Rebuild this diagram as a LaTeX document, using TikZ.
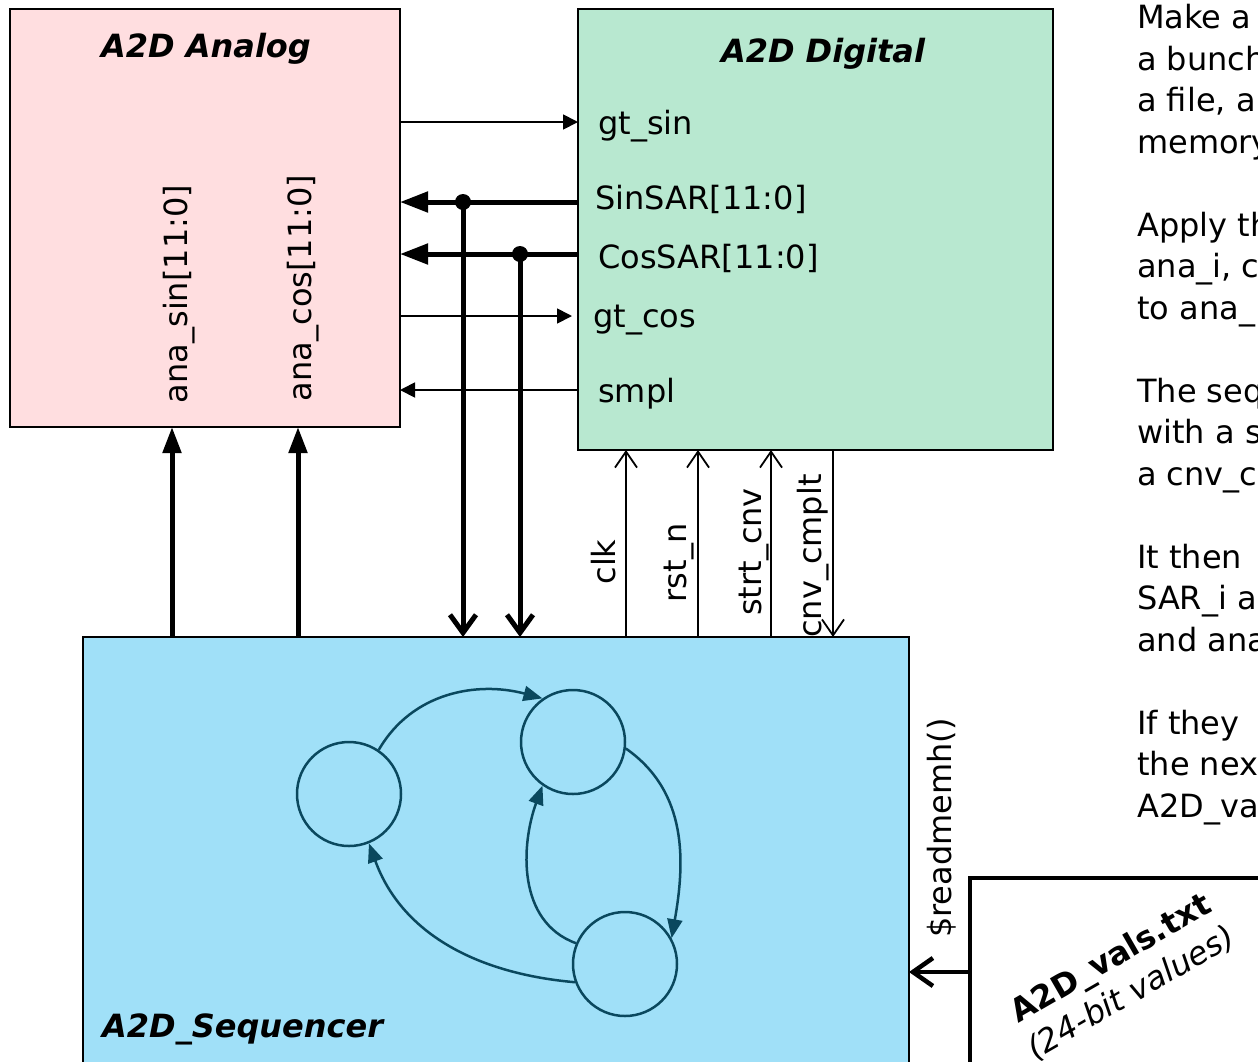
\documentclass[tikz,border=0pt]{standalone}
\usepackage{fontspec}
\setmainfont{DejaVu Sans}
\usetikzlibrary{arrows.meta}

\definecolor{anapink}{RGB}{255,222,224}
\definecolor{diggreen}{RGB}{184,232,208}
\definecolor{seqblue}{RGB}{160,224,248}
\definecolor{fsmteal}{RGB}{10,72,94}

\newcommand{\lblsize}{\fontsize{32}{38}\selectfont}

\begin{document}
\begin{tikzpicture}[x=1pt, y=1pt,
        blk/.style={draw, line width=2.2pt, anchor=north west, inner sep=0pt, outer sep=0pt},
        title/.style={font=\lblsize\bfseries\itshape, inner sep=0pt, anchor=base},
        port/.style={font=\lblsize, inner sep=0pt, anchor=base west},
        vlbl/.style={font=\lblsize, inner sep=0pt, rotate=90, anchor=base},
        sig/.style={line width=1.8pt, -{Triangle[length=15pt,width=15pt]}},
        bus/.style={line width=5pt, -{Triangle[length=28pt,width=20pt]}},
        busdn/.style={line width=5pt, -{Straight Barb[length=18pt,width=26pt]}},
        ctl/.style={line width=1.8pt, -{Straight Barb[length=16pt,width=22pt]}},
        state/.style={circle, draw=fsmteal, line width=2.5pt, minimum size=104pt, inner sep=0pt},
        trans/.style={draw=fsmteal, line width=2.5pt, -{Triangle[length=19pt,width=15pt]}},
        dot/.style={circle, fill, inner sep=0pt, minimum size=16pt}
    ]
    \useasboundingbox (0,0) rectangle (1258,-1061);
    \clip (0,0) rectangle (1258,-1061);

    % blocks
    \node[blk, fill=anapink, minimum width=390pt, minimum height=418pt] (ana) at (10,-9) {};
    \node[blk, fill=diggreen, minimum width=475pt, minimum height=441pt] (dig) at (578,-9) {};
    \node[blk, fill=seqblue, minimum width=826pt, minimum height=450pt] (seq) at (83,-637) {};
    \node[blk, fill=white, line width=4pt, minimum width=320pt, minimum height=220pt] (file) at (970,-878) {};

    \node[title] (anatitle) at (206,-57) {A2D Analog};
    \node[title] (digtitle) at (823,-62) {A2D Digital};
    \node[title, anchor=base west] (seqtitle) at (102,-1037) {A2D\_Sequencer};

    % ports of the digital block
    \node[port] (gtsin) at (598,-134) {gt\_sin};
    \node[port] (sinsar) at (595,-209) {SinSAR[11:0]};
    \node[port] (cossar) at (598,-268) {CosSAR[11:0]};
    \node[port] (gtcos) at (593,-327) {gt\_cos};
    \node[port] (smpl) at (598,-402) {smpl};

    \node[vlbl] (anasin) at (187,-294) {ana\_sin[11:0]};
    \node[vlbl] (anacos) at (311,-288) {ana\_cos[11:0]};

    % pin rows and columns
    \coordinate (rsin) at (0,-122);
    \coordinate (rcos) at (0,-316);
    \coordinate (rsmpl) at (0,-390);
    \coordinate (rrd) at (0,-972);
    \coordinate (psin) at (172,0);
    \coordinate (pcos) at (298,0);
    \coordinate (pclk) at (626,0);
    \coordinate (prst) at (698,0);
    \coordinate (pstrt) at (771,0);
    \coordinate (pcmp) at (833,0);

    \draw[sig] (ana.east |- rsin) -- (dig.west |- rsin);
    \draw[sig, shorten >=6pt] (ana.east |- rcos) -- (dig.west |- rcos);
    \draw[sig] (dig.west |- rsmpl) -- (ana.east |- rsmpl);

    % SAR buses
    \node[dot] (jsin) at (463,-202) {};
    \node[dot] (jcos) at (520,-254) {};
    \draw[bus] (dig.west |- jsin) -- (ana.east |- jsin);
    \draw[bus] (dig.west |- jcos) -- (ana.east |- jcos);
    \draw[busdn] (jsin.center) -- (seq.north -| jsin);
    \draw[busdn] (jcos.center) -- (seq.north -| jcos);

    \draw[bus, -{Triangle[length=26pt,width=18pt]}] (seq.north -| psin) -- (ana.south -| psin);
    \draw[bus, -{Triangle[length=26pt,width=18pt]}] (seq.north -| pcos) -- (ana.south -| pcos);

    % control lines
    \draw[ctl] (seq.north -| pclk) -- (dig.south -| pclk);
    \draw[ctl] (seq.north -| prst) -- (dig.south -| prst);
    \draw[ctl] (seq.north -| pstrt) -- (dig.south -| pstrt);
    \draw[ctl] (dig.south -| pcmp) -- (seq.north -| pcmp);
    \node[vlbl] (lclk) at (615,-562) {clk};
    \node[vlbl] (lrst) at (686,-563) {rst\_n};
    \node[vlbl] (lstrt) at (761,-552) {strt\_cnv};
    \node[vlbl] (lcmp) at (821,-556) {cnv\_cmplt};

    % file
    \draw[busdn, line width=4.5pt, -{Straight Barb[length=20pt,width=28pt]}] (file.west |- rrd) -- (seq.east |- rrd);
    \node[vlbl] (lrd) at (951,-828) {\$readmemh()};
    \node[rotate=30, align=center, inner sep=0pt, font=\fontsize{32}{40}\selectfont] (ftxt) at (1121,-976)
        {\textbf{A2D\_vals.txt}\\\textit{(24-bit values)}};

    % state machine
    \node[state] (s1) at (349,-794) {};
    \node[state] (s2) at (573,-742) {};
    \node[state] (s3) at (625,-964) {};
    \draw[trans] (s1.56) to[out=60, in=165] (s2.125);
    \draw[trans] (s2.-7) to[out=-35, in=80] (s3.29);
    \draw[trans] (s3.157) to[out=160, in=-110] (s2.235);
    \draw[trans] (s3.200) to[out=175, in=-70] (s1.-68);

    % notes on the right
    \node[anchor=north west, align=left, inner sep=0pt, font=\fontsize{32}{41.5}\selectfont] (notes) at (1137,-4)
        {Make a\\a bunch\\a file, a\\memory\\[41.5pt]
         Apply the\\ana\_i, c\\to ana\_\\[41.5pt]
         The seq\\with a s\\a cnv\_c\\[41.5pt]
         It then\\SAR\_i a\\and ana\\[41.5pt]
         If they\\the next\\A2D\_vals};
\end{tikzpicture}
\end{document}
